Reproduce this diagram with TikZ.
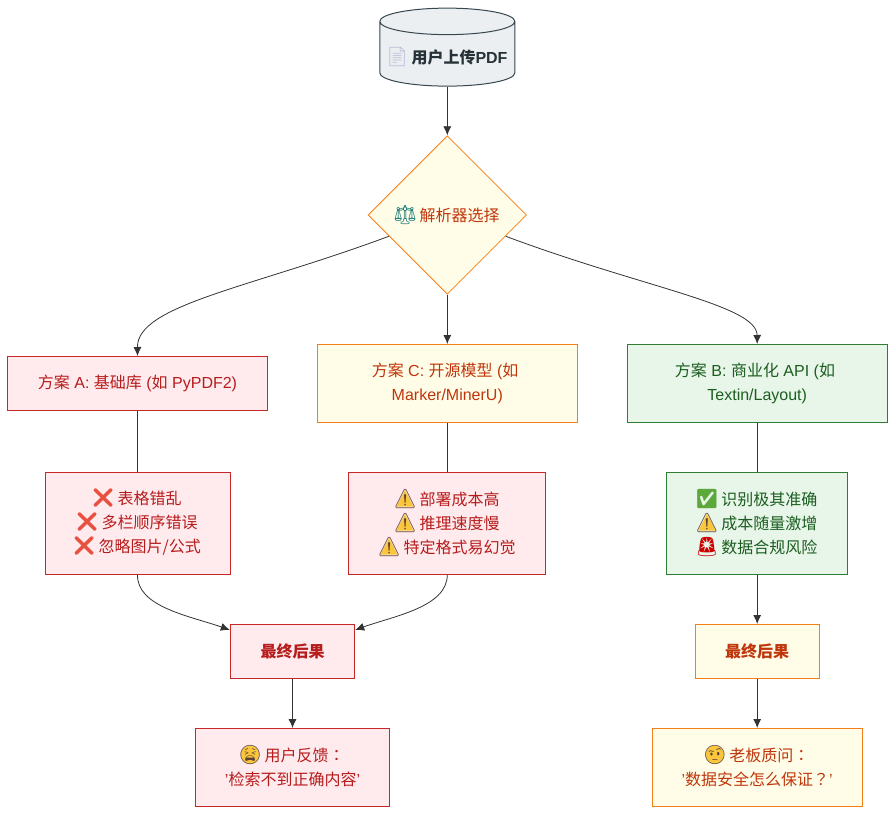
\documentclass[tikz,border=0pt]{standalone}
\usepackage{fontspec}
\usepackage{xcolor}
\setmainfont{Liberation Sans}
\newfontfamily\cjk{Noto Sans CJK SC}
\newfontfamily\cjkmark{Noto Sans CJK TC}
\newfontfamily\emojifont{Noto Emoji}
\usetikzlibrary{arrows.meta,shapes.geometric}
\definecolor{redfill}{HTML}{FFEBEE}
\definecolor{redline}{HTML}{C62828}
\definecolor{redtext}{HTML}{B71C1C}
\definecolor{ambfill}{HTML}{FFFDE7}
\definecolor{ambline}{HTML}{F57F17}
\definecolor{ambtext}{HTML}{BF360C}
\definecolor{grnfill}{HTML}{E8F5E9}
\definecolor{grnline}{HTML}{2E7D32}
\definecolor{grntext}{HTML}{1B5E20}
\definecolor{dbfill}{HTML}{ECEFF1}
\definecolor{dbline}{HTML}{37474F}
\definecolor{dbtext}{HTML}{263238}
\definecolor{wire}{HTML}{333333}
\definecolor{gold}{HTML}{F9C63C}
\definecolor{inkbrown}{HTML}{5D4037}
\definecolor{crossred}{HTML}{E8503F}
\definecolor{tickgreen}{HTML}{5CA83A}
\newcommand{\zh}[1]{{\cjk #1}}
\newcommand{\emo}[2]{\smash{\makebox[20pt]{\fontsize{19}{24}\emojifont\selectfont\color{#1}#2}}}
\newcommand{\nope}{\emo{crossred}{❌}}
\newcommand{\warn}{\emo{inkbrown}{⚠}}
% gold shapes behind the emoji glyphs, relative to the card centre
\newcommand{\tribg}[2]{\fill[gold] ([shift={(#1-8.5,#2+8)}]path picture bounding box.center) -- ([shift={(#1+8.5,#2+8)}]path picture bounding box.center) -- ([shift={(#1,#2-8.5)}]path picture bounding box.center) -- cycle;}
\newcommand{\discbg}[2]{\fill[gold] ([shift={(#1,#2)}]path picture bounding box.center) circle (9pt);}

\begin{document}
\begin{tikzpicture}[
  x=1pt, y=-1pt,
  font=\fontsize{16}{24}\selectfont,
  card/.style={rectangle, draw, line width=1pt, align=center, inner sep=0pt},
  bad/.style={card, fill=redfill, draw=redline, text=redtext},
  risk/.style={card, fill=ambfill, draw=ambline, text=ambtext},
  good/.style={card, fill=grnfill, draw=grnline, text=grntext},
  >={Latex[length=9pt,width=8pt]},
  wired/.style={draw=wire, line width=.8pt}
]
\useasboundingbox (0,0) rectangle (895,814);

\node[cylinder, shape border rotate=90, aspect=.22, draw=dbline, fill=dbfill, line width=1pt,
  minimum width=135pt, minimum height=78pt, inner sep=0pt, text=dbtext] (n1) at (447.3,54)
  {\rule{0pt}{20pt}\emo{blue!25!gray!45}{📄} \zh{\bfseries 用户上传}\textbf{PDF}};
\node[diamond, aspect=1, draw=ambline, fill=ambfill, line width=.8pt, minimum size=158.5pt, inner sep=0pt, text=ambtext] (n2) at (447.3,215)
  {\emo{teal!70!gray}{⚖} \zh{解析器选择}};

\node[bad,  minimum width=259.6pt, minimum height=54pt] (n3) at (137.5,383.5)
  {\zh{方案} A: \zh{基础库} (\zh{如} PyPDF2)};
\node[risk, minimum width=260pt, minimum height=78pt] (n4) at (447.3,383.5)
  {\zh{方案} C: \zh{开源模型} (\zh{如}\rule{4.4pt}{0pt}\\Marker/MinerU)};
\node[good, minimum width=260pt, minimum height=78pt] (n5) at (757.2,383.5)
  {\zh{方案} B: \zh{商业化} API (\zh{如}\rule{4.4pt}{0pt}\\Textin/Layout)};

\node[bad,  minimum width=185pt, minimum height=102pt] (n6) at (137.5,523.5)
  {\nope{} \zh{表格错乱}\\\nope{} \zh{多栏顺序错误}\\\nope{} \zh{忽略图片/公式}};
\node[bad,  minimum width=197pt, minimum height=102pt, path picture={\tribg{-42.3}{-25}\tribg{-42.3}{-1}\tribg{-58.3}{23}}] (n7) at (447.3,523.5)
  {\warn{} \zh{部署成本高}\\\warn{} \zh{推理速度慢}\\\warn{} \zh{特定格式易幻觉}};
\node[good, minimum width=181pt, minimum height=102pt, path picture={\tribg{-50.2}{-1}}] (n8) at (757.2,523.5)
  {\emo{tickgreen}{✅} \zh{识别极其准确}\\\warn{} \zh{成本随量激增}\\\emo{red!80!black}{🚨} \zh{数据合规风险}};

\node[bad,  minimum width=124.4pt, minimum height=54pt] (n9)  at (292.5,651.5) {\zh{\bfseries 最终后果}};
\node[risk, minimum width=124.4pt, minimum height=54pt] (n10) at (757.2,651.5) {\zh{\bfseries 最终后果}};

\node[bad,  minimum width=194pt, minimum height=78pt, path picture={\discbg{-42.5}{-12.8}}] (n11) at (292.5,767.5)
  {\emo{inkbrown}{😫} \zh{用户反馈}{\cjkmark ：}\\'\zh{检索不到正确内容}'};
\node[risk, minimum width=210.4pt, minimum height=78pt, path picture={\discbg{-42.5}{-12.8}}] (n12) at (757.2,767.5)
  {\emo{inkbrown}{🤨} \zh{老板质问}{\cjkmark ：}\\'\zh{数据安全怎么保证}{\cjkmark ？}'};

\draw[->, wired] (n1) -- (n2);
\draw[->, wired] (n2.200) .. controls (250,288) and (137,305) .. (n3.north);
\draw[->, wired] (n2) -- (n4);
\draw[->, wired] (n2.-20) .. controls (644,288) and (757,305) .. (n5.north);
\draw[wired] (n3) -- (n6);
\draw[wired] (n4) -- (n7);
\draw[wired] (n5) -- (n8);
\draw[->, wired] (n6.south) .. controls (137,607) and (190,616) .. (n9.161);
\draw[->, wired] (n7.south) .. controls (447,607) and (394,616) .. (n9.19);
\draw[->, wired] (n8) -- (n10);
\draw[->, wired] (n9) -- (n11);
\draw[->, wired] (n10) -- (n12);
\end{tikzpicture}
\end{document}
